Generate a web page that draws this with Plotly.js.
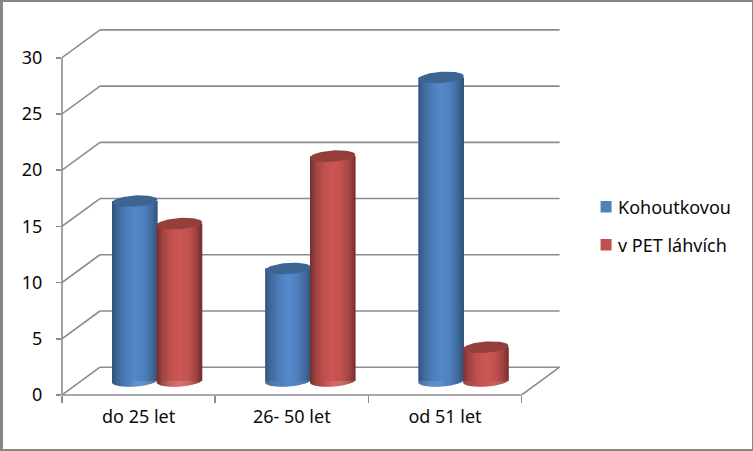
<!DOCTYPE html>
<html><head><meta charset="utf-8">
<script src="https://cdn.plot.ly/plotly-3.0.1.min.js"></script>
<style>
html,body{margin:0;padding:0;background:#fff;overflow:hidden}
#wrap{position:relative;width:753px;height:451px}
#frame{position:absolute;left:0;top:0;width:753px;height:451px;box-sizing:border-box;border-style:solid;border-color:#868686;border-width:2px 1px 2px 3px;pointer-events:none}
</style></head><body>
<div id="wrap"><div id="chart"></div><div id="frame"></div></div>
<script>
// ---- data ----
const categories = ['do 25 let', '26- 50 let', 'od 51 let'];
const kohoutkovou = [16, 10, 27];
const petLahvich = [14, 20, 3];
const seriesNames = ['Kohoutkovou', 'v PET láhvích'];
const yTicks = [0, 5, 10, 15, 20, 25, 30];

// ---- styling ----
const FONT = '"Noto Sans", sans-serif', FS = 18, TXT = '#0a0a0a', LINE = '#8c8c8c', LW = 1.6;
const blueStops = [[0,'#2e4f78'],[0.12,'#3f6798'],[0.3,'#4d7dba'],[0.5,'#5589cc'],[0.7,'#4f80c0'],[0.88,'#3f6898'],[1,'#2f5079']];
const redStops  = [[0,'#722e2c'],[0.12,'#9c4340'],[0.3,'#bf514e'],[0.5,'#ce5856'],[0.7,'#c35350'],[0.88,'#9a4240'],[1,'#6f2d2b']];
const solid = ['#4F81BD', '#C0504D'], capColor = ['#3d6592', '#953f3d'];

// ---- geometry (pixel scale of the axes) ----
const W = 501.4, H = 370, L = 62, BOT = 56;
const B0 = 451 - BOT;
const pxX = 153.33, pxY = 11.243;
const dx = 38 / pxX, dy = 27.8 / pxY;      // depth offset of the back wall
const offs = [0.475, 0.767], cw = 0.295;   // cylinder centre offsets and width in category units
const baseLift = 1.25, capB = 5.6 / pxY, tilt = 1.5 / pxY; // base lift, ellipse half-height, ellipse tilt
const hexMix = (a, b, t) => {
  const p = s => [1, 3, 5].map(i => parseInt(s.substr(i, 2), 16));
  const A = p(a), B = p(b);
  return 'rgb(' + A.map((v, i) => Math.round(v + (B[i] - v) * t)).join(',') + ')';
};
const gradAt = (stops, t) => {
  for (let i = 1; i < stops.length; i++) if (t <= stops[i][0]) {
    return hexMix(stops[i-1][1], stops[i][1], (t - stops[i-1][0]) / (stops[i][0] - stops[i-1][0]));
  }
  return stops[stops.length-1][1];
};

const N = 46, traces = [];
[kohoutkovou, petLahvich].forEach((vals, s) => {
  const stops = s === 0 ? blueStops : redStops;
  // solid bars holding the values
  traces.push({type:'bar', name:seriesNames[s], x:vals.map((_, i) => i + offs[s]), y:vals, base:vals.map(() => baseLift),
    width:cw, marker:{color:solid[s], line:{width:0}}, hoverinfo:'skip', showlegend:false});
  // shaded slices forming the cylinder body
  const xs = [], ys = [], bs = [], cs = [], ws = [];
  vals.forEach((v, i) => {
    for (let k = 0; k < N; k++) {
      const f = (k + 0.5) / N, t = 2 * f - 1;
      const low = capB * Math.sqrt(1 - t * t) - tilt * t;
      xs.push(i + offs[s] + t * cw / 2); bs.push(baseLift - low); ys.push(v + low);
      cs.push(gradAt(stops, f)); ws.push(cw / N * 1.25);
    }
  });
  traces.push({type:'bar', x:xs, y:ys, base:bs, width:ws, marker:{color:cs, line:{width:0}}, hoverinfo:'skip', showlegend:false});
});
// top caps
[kohoutkovou, petLahvich].forEach((vals, s) => {
  vals.forEach((v, i) => {
    const ex = [], ey = [];
    for (let a = 0; a <= 60; a++) {
      const th = a / 60 * 2 * Math.PI, c = Math.cos(th);
      ex.push(i + offs[s] + c * cw / 2);
      ey.push(baseLift + v + capB * Math.sin(th) + tilt * c);
    }
    traces.push({type:'scatter', mode:'lines', x:ex, y:ey, fill:'toself', fillcolor:capColor[s], line:{width:0, color:capColor[s]}, hoverinfo:'skip', showlegend:false});
  });
});

// ---- walls and gridlines ----
const ln = {color:LINE, width:LW};
const last = categories.length;
const shapes = [];
yTicks.forEach(v => {
  shapes.push({type:'line', layer:'below', xref:'x', yref:'y', x0:0, y0:v, x1:dx, y1:v+dy, line:ln});
  shapes.push({type:'line', layer:'below', xref:'x', yref:'y', x0:dx, y0:v+dy, x1:last+dx, y1:v+dy, line:ln});
});
shapes.push({type:'line', layer:'below', xref:'x', yref:'y', x0:last, y0:0, x1:last+dx, y1:dy, line:ln});
shapes.push({type:'line', layer:'below', xref:'x', yref:'paper', x0:0, y0:0, x1:last, y1:0, line:ln});
shapes.push({type:'line', layer:'below', xref:'paper', yref:'y', x0:0, y0:0, x1:0, y1:yTicks[yTicks.length-1], line:ln});

// ---- legend ----
const fx = p => (p - L) / W, fy = p => (B0 - p) / H;
const legendY = [207, 245];
const annotations = [];
seriesNames.forEach((n, s) => {
  shapes.push({type:'rect', xref:'paper', yref:'paper', x0:fx(601), x1:fx(612), y0:fy(legendY[s]-6), y1:fy(legendY[s]+5.5), fillcolor:solid[s], line:{width:0}});
  annotations.push({xref:'paper', yref:'paper', x:fx(616), y:fy(legendY[s]), xanchor:'left', yanchor:'middle', text:n, showarrow:false, font:{family:FONT, size:FS, color:TXT}});
});

Plotly.newPlot('chart', traces, {
  width:753, height:451,
  margin:{l:L, r:753-L-W, t:451-BOT-H, b:BOT, pad:0},
  paper_bgcolor:'rgba(0,0,0,0)', plot_bgcolor:'rgba(0,0,0,0)',
  barmode:'overlay', showlegend:false, font:{family:FONT, size:FS, color:TXT},
  xaxis:{range:[0, W/pxX], tickmode:'array', tickvals:categories.map((_, i) => i + 0.5), ticktext:categories,
    ticks:'', showgrid:false, zeroline:false, showline:false, ticklabelstandoff:9, fixedrange:true,
    minor:{tickmode:'array', tickvals:[0,1,2,3], ticks:'outside', ticklen:7, tickwidth:LW, tickcolor:LINE, showgrid:false}},
  yaxis:{range:[0, H/pxY], tickmode:'array', tickvals:yTicks, ticks:'outside', ticklen:5, tickwidth:LW, tickcolor:LINE,
    showgrid:false, zeroline:false, showline:false, ticklabelstandoff:10, fixedrange:true},
  shapes, annotations
}, {displayModeBar:false, staticPlot:true});
</script></body></html>
